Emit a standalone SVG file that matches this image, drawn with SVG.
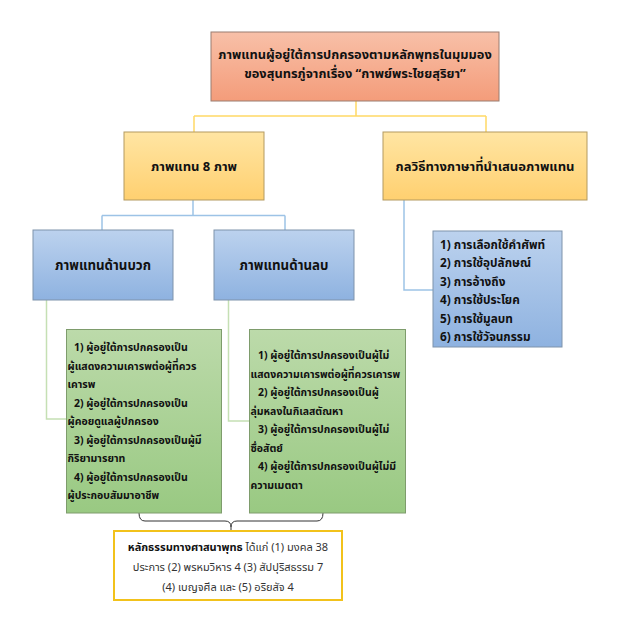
<svg xmlns="http://www.w3.org/2000/svg" width="619" height="626" viewBox="0 0 619 626">
<style>
text{font-family:"Noto Sans Thai","Noto Sans","DejaVu Sans",sans-serif;fill:#111;}
.b{font-weight:bold;}
.t13{font-size:12.8px;}
.to{font-size:13px;}
.tb{font-size:13.3px;}
.tl{font-size:11.8px;}
.tg{font-size:10.5px;}
.t11{font-size:11px;}
.mid{text-anchor:middle;}
.cy{stroke:#ffd966;stroke-width:1.5;fill:none;}
.cb{stroke:#9dc3e6;stroke-width:1.5;fill:none;}
.cg{stroke:#c5e0b4;stroke-width:1.5;fill:none;}
</style>
<defs>
<linearGradient id="gSal" x1="0" y1="0" x2="0" y2="1"><stop offset="0" stop-color="#f8c0a8"/><stop offset="1" stop-color="#f49c7a"/></linearGradient>
<linearGradient id="gOr" x1="0" y1="0" x2="0" y2="1"><stop offset="0" stop-color="#ffe5a3"/><stop offset="1" stop-color="#ffd070"/></linearGradient>
<linearGradient id="gBl" x1="0" y1="0" x2="0" y2="1"><stop offset="0" stop-color="#bcd2ee"/><stop offset="1" stop-color="#8eb2e0"/></linearGradient>
<linearGradient id="gGr" x1="0" y1="0" x2="0" y2="1"><stop offset="0" stop-color="#bcdaaa"/><stop offset="1" stop-color="#99c982"/></linearGradient>
</defs>
<rect width="619" height="626" fill="#fff"/>
<g id="connectors">
<path class="cy" d="M356,101 V116 M194,116 H486 M194,116 V132 M486,116 V132"/>
<path class="cb" d="M193,200 V215.5 M102,215.5 H285 M102,215.5 V230 M285,215.5 V230"/>
<path class="cb" d="M404,200 V290 H433"/>
<path class="cg" d="M46.5,300 V419 H66.5 M228.5,300 V421 H249.5"/>
<path d="M139,513 Q139,521 145,521 L225,521 Q231,521 231,527 Q231,521 237,521 L317,521 Q323,521 323,513" fill="none" stroke="#333" stroke-width="1"/>
<path d="M231,527 V531" fill="none" stroke="#333" stroke-width="1"/>
</g>
<g id="root">
<rect x="211" y="32" width="288" height="69" fill="url(#gSal)" stroke="#9a7d70"/>
<text class="b t13 mid" x="355" y="59">ภาพแทนผู้อยู่ใต้การปกครองตามหลักพุทธในมุมมอง</text>
<text class="b t13 mid" x="355" y="78">ของสุนทรภู่จากเรื่อง “กาพย์พระไชยสุริยา”</text>
</g>
<g id="images8">
<rect x="124" y="132" width="140" height="68" fill="url(#gOr)" stroke="#b39a60"/>
<text class="b to mid" x="194" y="170.5">ภาพแทน 8 ภาพ</text>
</g>
<g id="techniques">
<rect x="383" y="132" width="204" height="68" fill="url(#gOr)" stroke="#b39a60"/>
<text class="b to mid" x="485" y="170.5">กลวิธีทางภาษาที่นำเสนอภาพแทน</text>
</g>
<g id="positive">
<rect x="33" y="230" width="140" height="70" fill="url(#gBl)" stroke="#7f93ab"/>
<text class="b tb mid" x="103" y="270">ภาพแทนด้านบวก</text>
</g>
<g id="negative">
<rect x="214" y="230" width="140" height="70" fill="url(#gBl)" stroke="#7f93ab"/>
<text class="b tb mid" x="284" y="270">ภาพแทนด้านลบ</text>
</g>
<g id="techlist">
<rect x="433" y="231" width="129" height="116" fill="url(#gBl)" stroke="#7f93ab"/>
<text class="b tl" x="440" y="248.5">1) การเลือกใช้คำศัพท์</text>
<text class="b tl" x="440" y="267">2) การใช้อุปลักษณ์</text>
<text class="b tl" x="440" y="285.5">3) การอ้างถึง</text>
<text class="b tl" x="440" y="304">4) การใช้ประโยค</text>
<text class="b tl" x="440" y="322.5">5) การใช้มูลบท</text>
<text class="b tl" x="440" y="341">6) การใช้วัจนกรรม</text>
</g>
<g id="poslist">
<rect x="66.5" y="329.5" width="155" height="183.5" fill="url(#gGr)" stroke="#7e9c6c"/>
<text class="b tg" x="74" y="351">1) ผู้อยู่ใต้การปกครองเป็น</text>
<text class="b tg" x="67.5" y="369.5">ผู้แสดงความเคารพต่อผู้ที่ควร</text>
<text class="b tg" x="67.5" y="388">เคารพ</text>
<text class="b tg" x="74" y="406.5">2) ผู้อยู่ใต้การปกครองเป็น</text>
<text class="b tg" x="67.5" y="425">ผู้คอยดูแลผู้ปกครอง</text>
<text class="b tg" x="74" y="443.5">3) ผู้อยู่ใต้การปกครองเป็นผู้มี</text>
<text class="b tg" x="67.5" y="462">กิริยามารยาท</text>
<text class="b tg" x="74" y="480.5">4) ผู้อยู่ใต้การปกครองเป็น</text>
<text class="b tg" x="67.5" y="499">ผู้ประกอบสัมมาอาชีพ</text>
</g>
<g id="neglist">
<rect x="249.5" y="329.5" width="156" height="183.5" fill="url(#gGr)" stroke="#7e9c6c"/>
<text class="b tg" x="258" y="359">1) ผู้อยู่ใต้การปกครองเป็นผู้ไม่</text>
<text class="b tg" x="250.5" y="377.5">แสดงความเคารพต่อผู้ที่ควรเคารพ</text>
<text class="b tg" x="258" y="396">2) ผู้อยู่ใต้การปกครองเป็นผู้</text>
<text class="b tg" x="250.5" y="414.5">ลุ่มหลงในกิเลสตัณหา</text>
<text class="b tg" x="258" y="433">3) ผู้อยู่ใต้การปกครองเป็นผู้ไม่</text>
<text class="b tg" x="250.5" y="451.5">ซื่อสัตย์</text>
<text class="b tg" x="258" y="470">4) ผู้อยู่ใต้การปกครองเป็นผู้ไม่มี</text>
<text class="b tg" x="250.5" y="488.5">ความเมตตา</text>
</g>
<g id="dhamma">
<rect x="114" y="531" width="228" height="69" fill="#fff" stroke="#f2c21b" stroke-width="2"/>
<text class="t11 mid" x="228" y="551" style="fill:#333"><tspan class="b" style="fill:#111">หลักธรรมทางศาสนาพุทธ</tspan> ได้แก่ (1) มงคล 38</text>
<text class="t11 mid" x="228" y="571" style="fill:#333">ประการ (2) พรหมวิหาร 4 (3) สัปปุริสธรรม 7</text>
<text class="t11 mid" x="228" y="591" style="fill:#333">(4) เบญจศีล และ (5) อริยสัจ 4</text>
</g>
</svg>
